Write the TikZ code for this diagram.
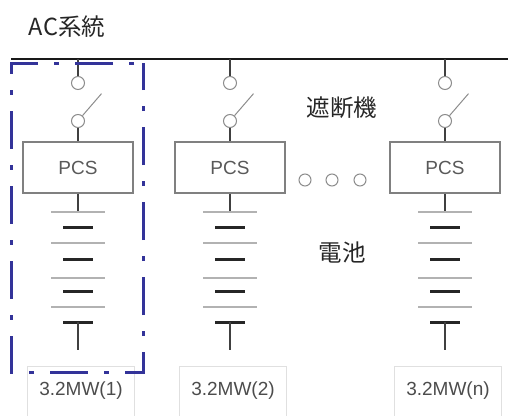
\documentclass[tikz,border=0pt]{standalone}
\usepackage{fontspec}
\setmainfont{Liberation Sans}
\newfontfamily\jpfont{Noto Sans CJK JP}
\definecolor{unitblue}{RGB}{51,51,153}
\begin{document}
\begin{tikzpicture}[x=1pt, y=-1pt]
    \tikzset{wire/.style={draw=black!75, line width=2pt}}
    \tikzset{terminal/.style={circle, draw=black!45, line width=1pt, fill=white, minimum size=13pt, inner sep=0pt}}
    \tikzset{blade/.style={black!45, line width=1pt}}
    \tikzset{pcsbox/.style={draw=black!50, line width=1.5pt, minimum width=110pt, minimum height=51pt, font=\fontsize{19}{19}\selectfont, text=black!65}}
    \tikzset{cellthin/.style={black!30, line width=1.5pt}}
    \tikzset{cellthick/.style={black!85, line width=3pt}}
    \tikzset{ratingbox/.style={draw=black!12, line width=1pt, minimum width=107pt, minimum height=50pt, font=\fontsize{19}{19}\selectfont, text=black!70}}
    \tikzset{unit/.style={draw=unitblue, line width=3pt, dash pattern=on 38pt off 16pt on 5pt off 16pt, dash phase=45pt}}
    \tikzset{jp/.style={font=\jpfont\fontsize{23.5}{23.5}\selectfont, text=black!85}}
    \useasboundingbox (0,0) rectangle (508,415);
    \node[jp] (ac) at (67,27) {AC系統};
    \coordinate (busl) at (11,59);
    \coordinate (busr) at (508,59);
    \draw[black!90, line width=2pt] (busl) -- (busr);
    \foreach \i/\cx/\n in {1/78/1, 2/230/2, 3/445/n} {
        \coordinate (tap\i) at (\cx,59);
        \node[terminal] (ta\i) at (\cx,83) {};
        \node[terminal] (tb\i) at (\cx,121) {};
        \node[pcsbox] (pcs\i) at (\cx,167.5) {PCS};
        \coordinate (pos\i) at (\cx,212);
        \coordinate (neg\i) at (\cx,350);
        \draw[wire] (tap\i) -- (ta\i);
        \draw[wire] (tb\i) -- (pcs\i);
        \draw[wire] (pcs\i) -- (pos\i);
        \draw[blade] (tb\i.50) -- ++(19,-22);
        \foreach \y in {212,243,278,307}
            \draw[cellthin] (\cx-27,\y) -- (\cx+27,\y);
        \foreach \y in {227,259,291,322}
            \draw[cellthick] (\cx-15,\y) -- (\cx+15,\y);
        \draw[wire] (\cx,322) -- (neg\i);
        \node[ratingbox] (mw\i) at (\cx+3,391) {3.2MW(\n)};
    }
    \foreach \k/\x in {1/305,2/332,3/360}
        \node[terminal, minimum size=12pt] (dot\k) at (\x,180) {};
    \node[jp] (brk) at (342,108) {遮断機};
    \node[jp] (cell) at (342,252) {電池};
    \draw[unit] (143,63) -- (11,63) -- (11,372) -- (143,372) -- cycle;
\end{tikzpicture}
\end{document}
